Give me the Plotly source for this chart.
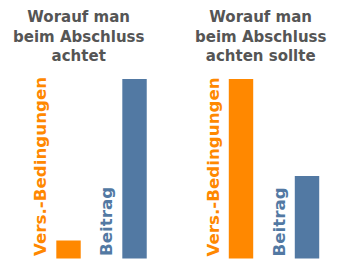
import plotly.graph_objects as go

categories = ["Vers.-Bedingungen", "Beitrag"]
titles = ["Worauf man<br>beim Abschluss<br>achtet", "Worauf man<br>beim Abschluss<br>achten sollte"]
values_achtet = [10, 100]
values_sollte = [100, 46]
colors = ["#ff8800", "#5279a3"]

fig = go.Figure()
series = [values_achtet, values_sollte]
axes = [("x", "y"), ("x2", "y2")]
for (xa, ya), vals in zip(axes, series):
    fig.add_trace(go.Bar(
        x=[0, 1], y=vals, xaxis=xa, yaxis=ya,
        marker=dict(color=colors, line=dict(width=0)),
        width=0.37, showlegend=False, hoverinfo="skip",
    ))

px_per_unit = 66.0
yr = [-4.74, 144.0]
fig.update_layout(
    width=341, height=267,
    margin=dict(l=0, r=0, t=0, b=0),
    paper_bgcolor="white", plot_bgcolor="white",
    xaxis=dict(domain=[0, 0.5], range=[-1.038, 1.545], visible=False, fixedrange=True),
    xaxis2=dict(domain=[0.5, 1], range=[-1.068, 1.515], visible=False, fixedrange=True),
    yaxis=dict(domain=[0, 1], range=yr, visible=False),
    yaxis2=dict(domain=[0, 1], range=yr, visible=False, anchor="x2"),
)

ann = []
for (xa, ya), t, xc in zip(axes, titles, [-1.038 + 78 / px_per_unit, -1.068 + 89.5 / px_per_unit]):
    ann.append(dict(
        x=xc, y=1, xref=xa, yref="paper", yanchor="top", xanchor="center",
        text="<b>%s</b>" % t, showarrow=False, yshift=-6,
        font=dict(family="DejaVu Sans", size=15, color="#555555"),
        align="center",
    ))
    for i, c in enumerate(categories):
        ann.append(dict(
            x=i, y=0, xref=xa, yref=ya, xanchor="center", yanchor="bottom",
            xshift=-28.5, text="<b>%s</b>" % c, textangle=-90, showarrow=False,
            font=dict(family="DejaVu Sans", size=16.7, color=colors[i]),
        ))
fig.update_layout(annotations=ann)
fig.write_html("out.html")
